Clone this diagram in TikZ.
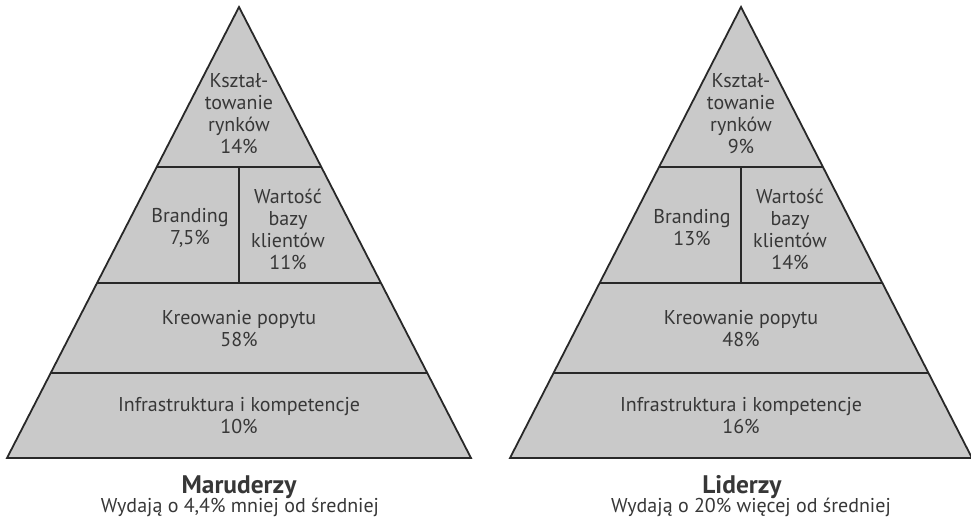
\documentclass[tikz,border=0pt]{standalone}
\usepackage{fontspec}
\setmainfont{PT Sans}
\definecolor{bandfill}{RGB}{201,201,201}
\definecolor{edge}{RGB}{40,40,40}
\definecolor{ink}{RGB}{55,55,55}
\begin{document}
\begin{tikzpicture}[x=1pt,y=-1pt,
  band/.style={fill=bandfill,draw=edge,line width=1.8pt,line join=miter},
  divider/.style={draw=edge,line width=1.8pt},
  lbl/.style={text=ink,align=center,font=\fontsize{20}{22}\selectfont,inner sep=0pt},
  ttl/.style={text=ink,font=\fontsize{25.4}{30}\selectfont\bfseries,inner sep=0pt,anchor=base},
  sub/.style={text=ink,align=center,font=\fontsize{20}{22}\selectfont,inner sep=0pt,anchor=base}]
\useasboundingbox (0,0) rectangle (971,520);
% ---------- left pyramid ----------
\filldraw[band] (239,7) -- (471,458) -- (7,458) -- cycle;
\draw[divider] (157,167) -- (321,167);
\draw[divider] (97,283) -- (381,283);
\draw[divider] (51,373) -- (427,373);
\draw[divider] (239,167) -- (239,283);
\node[lbl] (lA) at (239,114) {Kształ-\\towanie\\rynków\\14\%};
\node[lbl] (lB) at (190,228) {Branding\\7,5\%};
\node[lbl] (lC) at (288,229) {Wartość\\bazy\\klientów\\11\%};
\node[lbl] (lD) at (239,329) {Kreowanie popytu\\58\%};
\node[lbl] (lE) at (239,416) {Infrastruktura i kompetencje\\10\%};
\node[ttl] (lT) at (239,493) {Maruderzy};
\node[sub] (lS) at (240,512) {Wydają o 4,4\% mniej od średniej};
% ---------- right pyramid ----------
\filldraw[band] (741,7) -- (972,458) -- (510,458) -- cycle;
\draw[divider] (659,167) -- (823,167);
\draw[divider] (599,283) -- (883,283);
\draw[divider] (553,373) -- (929,373);
\draw[divider] (741,167) -- (741,283);
\node[lbl] (rA) at (741,114) {Kształ-\\towanie\\rynków\\9\%};
\node[lbl] (rB) at (692,228) {Branding\\13\%};
\node[lbl] (rC) at (790,229) {Wartość\\bazy\\klientów\\14\%};
\node[lbl] (rD) at (741,329) {Kreowanie popytu\\48\%};
\node[lbl] (rE) at (741,416) {Infrastruktura i kompetencje\\16\%};
\node[ttl] (rT) at (742,493) {Liderzy};
\node[sub] (rS) at (751,512) {Wydają o 20\% więcej od średniej};
\end{tikzpicture}
\end{document}
